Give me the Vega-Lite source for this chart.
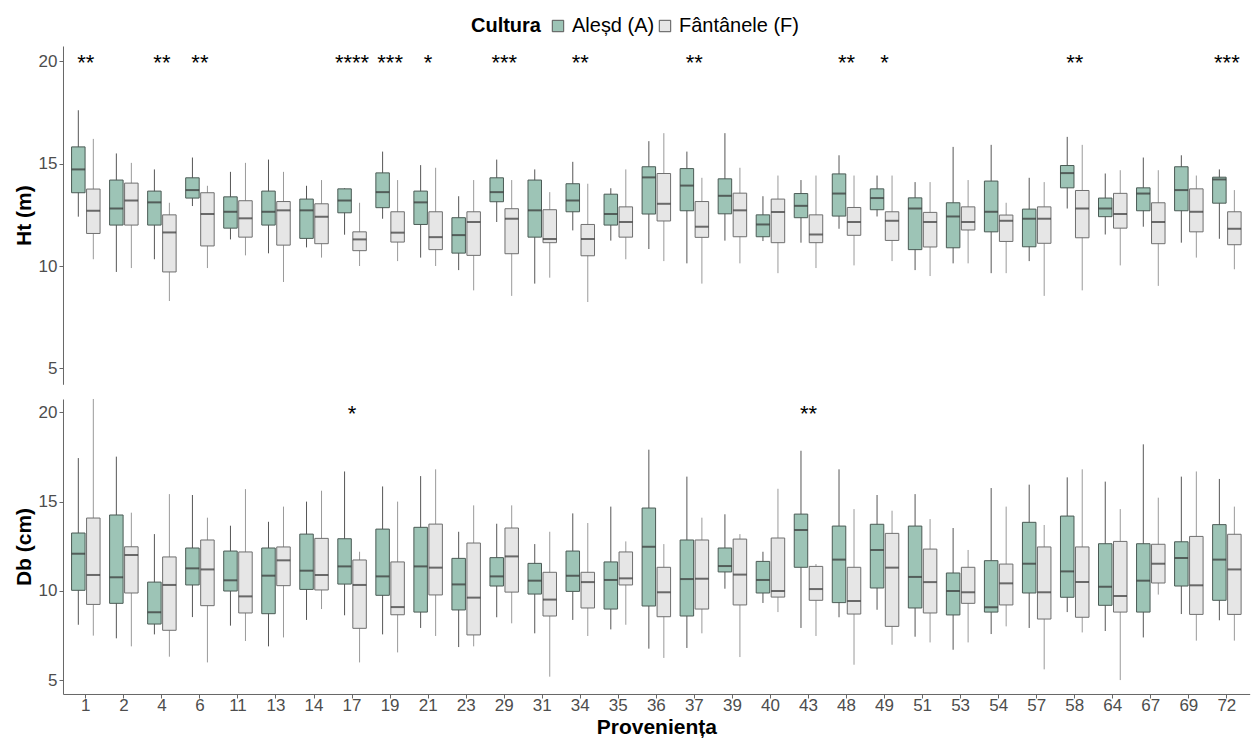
{
  "$schema": "https://vega.github.io/schema/vega-lite/v6.json",
  "autosize": {"type": "pad"},
  "padding": {"left": 13, "top": 16, "right": 2, "bottom": 0},
  "background": "white",
  "config": {
    "view": {"stroke": null},
    "font": "Liberation Sans",
    "axis": {
      "labelFont": "Liberation Sans", "labelFontSize": 17, "labelColor": "#4d4d4d",
      "titleFont": "Liberation Sans", "titleFontSize": 21, "titleFontWeight": "bold", "titleColor": "#000000",
      "domainColor": "#666666", "tickColor": "#666666", "tickSize": 4, "grid": false
    }
  },
  "datasets": {
    "ht": [
      {"p":"1","c":"A","lo":12.41,"q1":13.58,"md":14.72,"q3":15.82,"hi":17.61},
      {"p":"1","c":"F","lo":10.33,"q1":11.59,"md":12.70,"q3":13.76,"hi":16.21},
      {"p":"2","c":"A","lo":9.71,"q1":12.00,"md":12.81,"q3":14.20,"hi":15.50},
      {"p":"2","c":"F","lo":9.90,"q1":12.00,"md":13.20,"q3":14.05,"hi":15.04},
      {"p":"4","c":"A","lo":10.33,"q1":12.00,"md":13.11,"q3":13.66,"hi":14.72},
      {"p":"4","c":"F","lo":8.29,"q1":9.71,"md":11.64,"q3":12.50,"hi":13.09},
      {"p":"6","c":"A","lo":12.93,"q1":13.32,"md":13.71,"q3":14.31,"hi":15.30},
      {"p":"6","c":"F","lo":9.90,"q1":10.98,"md":12.54,"q3":13.58,"hi":13.92},
      {"p":"11","c":"A","lo":11.30,"q1":11.85,"md":12.65,"q3":13.38,"hi":14.60},
      {"p":"11","c":"F","lo":10.52,"q1":11.41,"md":12.33,"q3":13.19,"hi":15.04},
      {"p":"13","c":"A","lo":10.62,"q1":12.00,"md":12.65,"q3":13.66,"hi":15.20},
      {"p":"13","c":"F","lo":9.22,"q1":11.02,"md":12.72,"q3":13.15,"hi":14.60},
      {"p":"14","c":"A","lo":10.91,"q1":11.35,"md":12.72,"q3":13.27,"hi":13.92},
      {"p":"14","c":"F","lo":10.41,"q1":11.09,"md":12.41,"q3":13.04,"hi":14.20},
      {"p":"17","c":"A","lo":11.53,"q1":12.60,"md":13.20,"q3":13.77,"hi":13.80},
      {"p":"17","c":"F","lo":10.00,"q1":10.75,"md":11.30,"q3":11.67,"hi":13.09},
      {"p":"19","c":"A","lo":12.31,"q1":12.85,"md":13.61,"q3":14.55,"hi":15.59},
      {"p":"19","c":"F","lo":10.24,"q1":11.17,"md":11.63,"q3":12.65,"hi":14.20},
      {"p":"21","c":"A","lo":10.41,"q1":12.03,"md":13.11,"q3":13.66,"hi":14.93},
      {"p":"21","c":"F","lo":10.00,"q1":10.80,"md":11.41,"q3":12.65,"hi":14.80},
      {"p":"23","c":"A","lo":9.80,"q1":10.63,"md":11.51,"q3":12.36,"hi":13.41},
      {"p":"23","c":"F","lo":8.81,"q1":10.52,"md":12.15,"q3":12.65,"hi":14.20},
      {"p":"29","c":"A","lo":12.15,"q1":13.14,"md":13.61,"q3":14.31,"hi":15.20},
      {"p":"29","c":"F","lo":8.54,"q1":10.60,"md":12.31,"q3":12.80,"hi":14.20},
      {"p":"31","c":"A","lo":9.14,"q1":11.41,"md":12.72,"q3":14.20,"hi":14.72},
      {"p":"31","c":"F","lo":9.43,"q1":11.14,"md":11.32,"q3":12.75,"hi":13.61},
      {"p":"34","c":"A","lo":11.74,"q1":12.65,"md":13.20,"q3":14.02,"hi":15.09},
      {"p":"34","c":"F","lo":8.24,"q1":10.50,"md":11.32,"q3":12.03,"hi":14.02},
      {"p":"35","c":"A","lo":11.24,"q1":12.00,"md":12.54,"q3":13.51,"hi":13.80},
      {"p":"35","c":"F","lo":10.33,"q1":11.41,"md":12.15,"q3":12.89,"hi":14.72},
      {"p":"36","c":"A","lo":10.83,"q1":12.54,"md":14.33,"q3":14.85,"hi":16.10},
      {"p":"36","c":"F","lo":10.24,"q1":12.20,"md":13.04,"q3":14.52,"hi":16.49},
      {"p":"37","c":"A","lo":10.13,"q1":12.70,"md":13.93,"q3":14.76,"hi":15.59},
      {"p":"37","c":"F","lo":9.14,"q1":11.40,"md":11.92,"q3":13.15,"hi":14.31},
      {"p":"39","c":"A","lo":11.24,"q1":12.55,"md":13.43,"q3":14.26,"hi":16.49},
      {"p":"39","c":"F","lo":10.13,"q1":11.43,"md":12.72,"q3":13.56,"hi":14.80},
      {"p":"40","c":"A","lo":11.22,"q1":11.43,"md":12.03,"q3":12.50,"hi":13.41},
      {"p":"40","c":"F","lo":9.65,"q1":11.14,"md":12.64,"q3":13.27,"hi":14.42},
      {"p":"43","c":"A","lo":11.14,"q1":12.36,"md":12.94,"q3":13.54,"hi":14.20},
      {"p":"43","c":"F","lo":9.90,"q1":11.14,"md":11.54,"q3":12.50,"hi":14.42},
      {"p":"48","c":"A","lo":11.82,"q1":12.44,"md":13.54,"q3":14.50,"hi":15.41},
      {"p":"48","c":"F","lo":10.03,"q1":11.50,"md":12.15,"q3":12.86,"hi":14.42},
      {"p":"49","c":"A","lo":12.42,"q1":12.75,"md":13.32,"q3":13.77,"hi":14.42},
      {"p":"49","c":"F","lo":10.24,"q1":11.25,"md":12.21,"q3":12.65,"hi":14.42},
      {"p":"51","c":"A","lo":9.80,"q1":10.80,"md":12.81,"q3":13.33,"hi":14.10},
      {"p":"51","c":"F","lo":9.51,"q1":10.93,"md":12.15,"q3":12.62,"hi":14.10},
      {"p":"53","c":"A","lo":10.13,"q1":10.89,"md":12.42,"q3":13.09,"hi":15.82},
      {"p":"53","c":"F","lo":10.13,"q1":11.76,"md":12.15,"q3":12.89,"hi":14.20},
      {"p":"54","c":"A","lo":9.65,"q1":11.67,"md":12.65,"q3":14.15,"hi":15.92},
      {"p":"54","c":"F","lo":9.65,"q1":11.20,"md":12.21,"q3":12.49,"hi":13.09},
      {"p":"57","c":"A","lo":10.24,"q1":10.94,"md":12.31,"q3":12.78,"hi":14.31},
      {"p":"57","c":"F","lo":8.54,"q1":11.11,"md":12.31,"q3":12.89,"hi":14.10},
      {"p":"58","c":"A","lo":12.81,"q1":13.82,"md":14.54,"q3":14.91,"hi":16.31},
      {"p":"58","c":"F","lo":8.81,"q1":11.38,"md":12.81,"q3":13.69,"hi":15.92},
      {"p":"64","c":"A","lo":11.54,"q1":12.41,"md":12.81,"q3":13.32,"hi":14.52},
      {"p":"64","c":"F","lo":10.03,"q1":11.85,"md":12.54,"q3":13.55,"hi":14.68},
      {"p":"67","c":"A","lo":11.92,"q1":12.70,"md":13.54,"q3":13.82,"hi":15.30},
      {"p":"67","c":"F","lo":9.03,"q1":11.09,"md":12.15,"q3":13.09,"hi":14.68},
      {"p":"69","c":"A","lo":11.14,"q1":12.70,"md":13.71,"q3":14.85,"hi":15.41},
      {"p":"69","c":"F","lo":10.41,"q1":11.67,"md":12.65,"q3":13.77,"hi":14.42},
      {"p":"72","c":"A","lo":11.33,"q1":13.07,"md":14.23,"q3":14.34,"hi":14.72},
      {"p":"72","c":"F","lo":9.84,"q1":11.04,"md":11.82,"q3":12.65,"hi":13.71}
    ],
    "db": [
      {"p":"1","c":"A","lo":8.10,"q1":10.03,"md":12.08,"q3":13.24,"hi":17.44},
      {"p":"1","c":"F","lo":7.49,"q1":9.24,"md":10.89,"q3":14.08,"hi":20.75},
      {"p":"2","c":"A","lo":7.34,"q1":9.30,"md":10.76,"q3":14.25,"hi":17.52},
      {"p":"2","c":"F","lo":6.89,"q1":9.88,"md":12.01,"q3":12.47,"hi":14.38},
      {"p":"4","c":"A","lo":7.56,"q1":8.14,"md":8.80,"q3":10.49,"hi":13.18},
      {"p":"4","c":"F","lo":6.31,"q1":7.79,"md":10.33,"q3":11.90,"hi":15.42},
      {"p":"6","c":"A","lo":8.53,"q1":10.33,"md":11.26,"q3":12.40,"hi":15.37},
      {"p":"6","c":"F","lo":5.99,"q1":9.17,"md":11.20,"q3":12.85,"hi":14.10},
      {"p":"11","c":"A","lo":8.05,"q1":9.99,"md":10.59,"q3":12.23,"hi":13.65},
      {"p":"11","c":"F","lo":7.19,"q1":8.76,"md":9.69,"q3":12.18,"hi":15.70},
      {"p":"13","c":"A","lo":6.89,"q1":8.72,"md":10.85,"q3":12.40,"hi":13.87},
      {"p":"13","c":"F","lo":7.39,"q1":10.29,"md":11.71,"q3":12.46,"hi":14.72},
      {"p":"14","c":"A","lo":8.37,"q1":10.08,"md":11.13,"q3":13.18,"hi":15.00},
      {"p":"14","c":"F","lo":8.98,"q1":10.05,"md":10.89,"q3":12.94,"hi":15.61},
      {"p":"17","c":"A","lo":8.63,"q1":10.38,"md":11.37,"q3":12.92,"hi":16.69},
      {"p":"17","c":"F","lo":5.99,"q1":7.90,"md":10.33,"q3":11.73,"hi":12.19},
      {"p":"19","c":"A","lo":7.56,"q1":9.75,"md":10.81,"q3":13.46,"hi":15.85},
      {"p":"19","c":"F","lo":6.55,"q1":8.66,"md":9.09,"q3":11.62,"hi":15.00},
      {"p":"21","c":"A","lo":7.92,"q1":8.81,"md":11.37,"q3":13.56,"hi":16.43},
      {"p":"21","c":"F","lo":7.47,"q1":9.77,"md":11.30,"q3":13.74,"hi":16.81},
      {"p":"23","c":"A","lo":6.85,"q1":8.93,"md":10.36,"q3":11.82,"hi":13.31},
      {"p":"23","c":"F","lo":6.89,"q1":7.53,"md":9.62,"q3":12.68,"hi":14.79},
      {"p":"29","c":"A","lo":8.52,"q1":10.27,"md":10.81,"q3":11.86,"hi":13.76},
      {"p":"29","c":"F","lo":8.18,"q1":9.93,"md":11.93,"q3":13.52,"hi":14.79},
      {"p":"31","c":"A","lo":7.62,"q1":9.82,"md":10.57,"q3":11.54,"hi":12.62},
      {"p":"31","c":"F","lo":5.19,"q1":8.59,"md":9.51,"q3":11.04,"hi":13.31},
      {"p":"34","c":"A","lo":8.37,"q1":9.97,"md":10.85,"q3":12.23,"hi":14.34},
      {"p":"34","c":"F","lo":7.47,"q1":9.04,"md":10.49,"q3":11.04,"hi":13.80},
      {"p":"35","c":"A","lo":7.84,"q1":8.98,"md":10.61,"q3":11.62,"hi":14.72},
      {"p":"35","c":"F","lo":8.10,"q1":10.33,"md":10.70,"q3":12.18,"hi":12.77},
      {"p":"36","c":"A","lo":6.76,"q1":9.15,"md":12.47,"q3":14.64,"hi":17.91},
      {"p":"36","c":"F","lo":6.24,"q1":8.55,"md":9.92,"q3":11.32,"hi":12.62},
      {"p":"37","c":"A","lo":6.80,"q1":8.59,"md":10.66,"q3":12.85,"hi":16.40},
      {"p":"37","c":"F","lo":7.62,"q1":8.98,"md":10.68,"q3":12.85,"hi":14.10},
      {"p":"39","c":"A","lo":10.12,"q1":11.06,"md":11.39,"q3":12.40,"hi":14.29},
      {"p":"39","c":"F","lo":6.29,"q1":9.21,"md":10.91,"q3":12.90,"hi":13.18},
      {"p":"40","c":"A","lo":9.32,"q1":9.88,"md":10.61,"q3":11.65,"hi":12.19},
      {"p":"40","c":"F","lo":8.81,"q1":9.65,"md":9.99,"q3":12.96,"hi":15.72},
      {"p":"43","c":"A","lo":7.92,"q1":11.32,"md":13.41,"q3":14.30,"hi":17.85},
      {"p":"43","c":"F","lo":7.47,"q1":9.47,"md":10.10,"q3":11.37,"hi":11.50},
      {"p":"48","c":"A","lo":8.52,"q1":9.34,"md":11.75,"q3":13.63,"hi":16.81},
      {"p":"48","c":"F","lo":5.86,"q1":8.70,"md":9.43,"q3":11.32,"hi":14.58},
      {"p":"49","c":"A","lo":8.94,"q1":10.16,"md":12.29,"q3":13.73,"hi":15.37},
      {"p":"49","c":"F","lo":6.98,"q1":8.01,"md":11.30,"q3":13.22,"hi":14.49},
      {"p":"51","c":"A","lo":7.43,"q1":9.04,"md":10.78,"q3":13.63,"hi":15.42},
      {"p":"51","c":"F","lo":7.11,"q1":8.76,"md":10.49,"q3":12.34,"hi":14.02},
      {"p":"53","c":"A","lo":6.70,"q1":8.65,"md":9.99,"q3":11.00,"hi":13.52},
      {"p":"53","c":"F","lo":7.11,"q1":9.30,"md":9.92,"q3":11.32,"hi":12.29},
      {"p":"54","c":"A","lo":7.58,"q1":8.81,"md":9.08,"q3":11.69,"hi":15.76},
      {"p":"54","c":"F","lo":8.01,"q1":9.21,"md":10.42,"q3":11.50,"hi":14.72},
      {"p":"57","c":"A","lo":7.92,"q1":9.88,"md":11.52,"q3":13.84,"hi":15.95},
      {"p":"57","c":"F","lo":5.60,"q1":8.42,"md":9.92,"q3":12.46,"hi":13.69},
      {"p":"58","c":"A","lo":8.81,"q1":9.64,"md":11.09,"q3":14.19,"hi":16.36},
      {"p":"58","c":"F","lo":7.67,"q1":8.52,"md":10.49,"q3":12.46,"hi":16.81},
      {"p":"64","c":"A","lo":7.75,"q1":9.19,"md":10.23,"q3":12.64,"hi":16.12},
      {"p":"64","c":"F","lo":5.00,"q1":8.81,"md":9.71,"q3":12.77,"hi":14.58},
      {"p":"67","c":"A","lo":7.39,"q1":8.81,"md":10.57,"q3":12.64,"hi":18.21},
      {"p":"67","c":"F","lo":9.79,"q1":10.44,"md":11.52,"q3":12.61,"hi":15.22},
      {"p":"69","c":"A","lo":8.70,"q1":10.27,"md":11.84,"q3":12.75,"hi":16.40},
      {"p":"69","c":"F","lo":7.21,"q1":8.68,"md":10.31,"q3":13.05,"hi":16.69},
      {"p":"72","c":"A","lo":8.35,"q1":9.47,"md":11.75,"q3":13.71,"hi":16.27},
      {"p":"72","c":"F","lo":7.21,"q1":8.68,"md":11.20,"q3":13.17,"hi":14.72}
    ],
    "ht_sig": [
      {"p":"1","s":"**"},{"p":"4","s":"**"},{"p":"6","s":"**"},{"p":"17","s":"****"},
      {"p":"19","s":"***"},{"p":"21","s":"*"},{"p":"29","s":"***"},{"p":"34","s":"**"},
      {"p":"37","s":"**"},{"p":"48","s":"**"},{"p":"49","s":"*"},{"p":"58","s":"**"},{"p":"72","s":"***"}
    ],
    "db_sig": [
      {"p":"17","s":"*"},{"p":"43","s":"**"}
    ]
  },
  "spacing": 13,
  "vconcat": [
    {
      "width": 1186.7,
      "height": 338.3,
      "data": {"name": "ht"},
      "layer": [
        {
          "mark": {"type": "rule", "strokeWidth": 1},
          "encoding": {
            "x": {"field": "p", "type": "nominal", "sort": null, "scale": {"type": "band", "domain": ["1","2","4","6","11","13","14","17","19","21","23","29","31","34","35","36","37","39","40","43","48","49","51","53","54","57","58","64","67","69","72"], "paddingInner": 0, "paddingOuter": 0.1}, "axis": null},
            "xOffset": {"field": "c", "type": "nominal", "scale": {"domain": ["A","F"], "paddingInner": 0.1, "paddingOuter": 0.318}},
            "y": {"field": "lo", "type": "quantitative", "scale": {"domain": [4.22, 20.75], "nice": false, "zero": false}, "axis": {"title": "Ht (m)", "values": [5,10,15,20], "labelPadding": 2, "titlePadding": 4}},
            "y2": {"field": "hi"},
            "stroke": {"condition": {"test": "datum.c == 'A'", "value": "#555555"}, "value": "#9a9a9a"}
          }
        },
        {
          "mark": {"type": "bar", "strokeWidth": 1},
          "encoding": {
            "x": {"field": "p", "type": "nominal", "sort": null},
            "xOffset": {"field": "c", "type": "nominal"},
            "y": {"field": "q1", "type": "quantitative", "title": "Ht (m)"},
            "y2": {"field": "q3"},
            "fill": {"field": "c", "type": "nominal", "scale": {"domain": ["A","F"], "range": ["#9dc4b6","#e6e6e6"]},
              "legend": {"title": "Cultura", "orient": "none", "legendX": 408, "legendY": -30, "direction": "horizontal", "titleOrient": "left", "titleFontSize": 20, "titleFontWeight": "bold", "titleColor": "#000000", "titleFont": "Liberation Sans", "titlePadding": 7, "labelFontSize": 20, "labelColor": "#000000", "labelFont": "Liberation Sans", "labelOffset": 4, "columnPadding": 0, "symbolType": "square", "symbolSize": 130, "symbolStrokeColor": "#555555", "symbolStrokeWidth": 1, "padding": 0,
                "labelExpr": "datum.label == 'A' ? 'Aleșd (A)' : 'Fântânele (F)'"}},
            "stroke": {"condition": {"test": "datum.c == 'A'", "value": "#4a5a54"}, "value": "#6e6e6e"}
          }
        },
        {
          "mark": {"type": "tick", "thickness": 2, "size": 13.5, "color": "#333333"},
          "encoding": {
            "x": {"field": "p", "type": "nominal", "sort": null},
            "xOffset": {"field": "c", "type": "nominal"},
            "y": {"field": "md", "type": "quantitative", "title": "Ht (m)"}
          }
        },
        {
          "data": {"name": "ht_sig"},
          "mark": {"type": "text", "fontSize": 22, "baseline": "alphabetic", "dy": 8.5, "color": "#000000", "font": "Liberation Sans"},
          "encoding": {
            "x": {"field": "p", "type": "nominal", "sort": null},
            "y": {"datum": 20, "type": "quantitative", "title": "Ht (m)"},
            "text": {"field": "s"}
          }
        }
      ]
    },
    {
      "width": 1186.7,
      "height": 295,
      "data": {"name": "db"},
      "layer": [
        {
          "mark": {"type": "rule", "strokeWidth": 1},
          "encoding": {
            "x": {"field": "p", "type": "nominal", "sort": null, "scale": {"type": "band", "domain": ["1","2","4","6","11","13","14","17","19","21","23","29","31","34","35","36","37","39","40","43","48","49","51","53","54","57","58","64","67","69","72"], "paddingInner": 0, "paddingOuter": 0.1}, "axis": {"title": "Proveniența", "labelAngle": 0, "labelPadding": 0, "titlePadding": 3}},
            "xOffset": {"field": "c", "type": "nominal", "scale": {"domain": ["A","F"], "paddingInner": 0.1, "paddingOuter": 0.318}},
            "y": {"field": "lo", "type": "quantitative", "scale": {"domain": [4.22, 20.75], "nice": false, "zero": false}, "axis": {"title": "Db (cm)", "values": [5,10,15,20], "labelPadding": 2, "titlePadding": 4}},
            "y2": {"field": "hi"},
            "stroke": {"condition": {"test": "datum.c == 'A'", "value": "#555555"}, "value": "#9a9a9a"}
          }
        },
        {
          "mark": {"type": "bar", "strokeWidth": 1},
          "encoding": {
            "x": {"field": "p", "type": "nominal", "sort": null, "title": "Proveniența"},
            "xOffset": {"field": "c", "type": "nominal"},
            "y": {"field": "q1", "type": "quantitative", "title": "Db (cm)"},
            "y2": {"field": "q3"},
            "fill": {"field": "c", "type": "nominal", "scale": {"domain": ["A","F"], "range": ["#9dc4b6","#e6e6e6"]}, "legend": null},
            "stroke": {"condition": {"test": "datum.c == 'A'", "value": "#4a5a54"}, "value": "#6e6e6e"}
          }
        },
        {
          "mark": {"type": "tick", "thickness": 2, "size": 13.5, "color": "#333333"},
          "encoding": {
            "x": {"field": "p", "type": "nominal", "sort": null, "title": "Proveniența"},
            "xOffset": {"field": "c", "type": "nominal"},
            "y": {"field": "md", "type": "quantitative", "title": "Db (cm)"}
          }
        },
        {
          "data": {"name": "db_sig"},
          "mark": {"type": "text", "fontSize": 22, "baseline": "alphabetic", "dy": 9, "color": "#000000", "font": "Liberation Sans"},
          "encoding": {
            "x": {"field": "p", "type": "nominal", "sort": null, "title": "Proveniența"},
            "y": {"datum": 20, "type": "quantitative", "title": "Db (cm)"},
            "text": {"field": "s"}
          }
        }
      ]
    }
  ]
}
